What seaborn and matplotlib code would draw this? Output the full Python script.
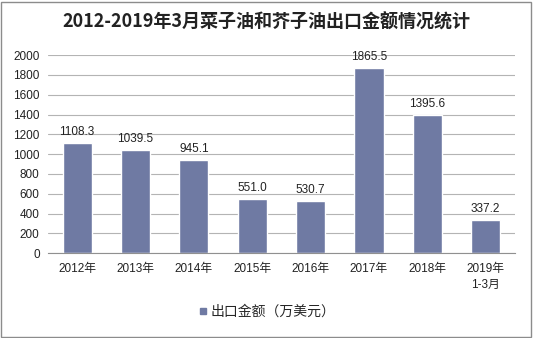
import matplotlib
matplotlib.use("Agg")
import matplotlib.pyplot as plt
import seaborn as sns
import pandas as pd
import numpy as np
from matplotlib.patches import Rectangle
from matplotlib.lines import Line2D

categories = ["2012年", "2013年", "2014年", "2015年", "2016年", "2017年", "2018年", "2019年\n1-3月"]
values = [1108.3, 1039.5, 945.1, 551.0, 530.7, 1865.5, 1395.6, 337.2]
series_name = "出口金额（万美元）"
title = "2012-2019年3月菜子油和芥子油出口金额情况统计"

sns.set_style("white")
plt.rcParams['font.family'] = ['Liberation Sans', 'Noto Sans CJK SC', 'DejaVu Sans']

df = pd.DataFrame({"cat": categories, "val": values})

fig = plt.figure(figsize=(5.33, 3.38), dpi=100)
ax = fig.add_axes([0.090, 0.251, 0.876, 0.586])
bar_color = "#6F7AA3"
sns.barplot(data=df, x="cat", y="val", color=bar_color, width=0.5, ax=ax, saturation=1)

ax.set_ylim(0, 2000)
ax.set_yticks(np.arange(0, 2001, 200))
ax.set_xlim(-0.5, len(categories) - 0.5)
ax.yaxis.grid(True, color="#B4B4B4", linewidth=0.8)
ax.set_axisbelow(True)
ax.set_xlabel("")
ax.set_ylabel("")
for s in ["top", "right", "left"]:
    ax.spines[s].set_visible(False)
ax.spines["bottom"].set_color("#909090")
ax.tick_params(axis="y", length=0, labelsize=8.5, pad=6, colors="#222222")
ax.tick_params(axis="x", length=0, labelsize=8.5, pad=7, colors="#222222")
ax.set_xticks(range(len(categories)))
ax.set_xticklabels(categories, linespacing=1.5)
ax.set_xticks(np.arange(-0.5, len(categories), 1), minor=True)
ax.tick_params(axis="x", which="minor", length=4, color="#909090")

for i, v in enumerate(values):
    ax.text(i, v + 50, f"{v:.1f}", ha="center", va="bottom", fontsize=8.5, color="#222222")

fig.text(0.5, 0.935, title, ha="center", va="center", fontsize=13, fontweight="bold",
         color="#222222", family=['Noto Sans CJK SC', 'DejaVu Sans'])

handle = Line2D([], [], marker="s", linestyle="none", markersize=5, color=bar_color)
fig.legend([handle], [series_name], loc="center", bbox_to_anchor=(0.5, 0.078), frameon=False,
           handletextpad=0.1, handlelength=0.8,
           prop={'family': ['Noto Sans CJK SC', 'DejaVu Sans'], 'size': 10})

fig.patches.append(Rectangle((0.002, 0.004), 0.994, 0.99, transform=fig.transFigure,
                             fill=False, edgecolor="#8C8C8C", linewidth=1))

fig.savefig("out.png", dpi=100)
